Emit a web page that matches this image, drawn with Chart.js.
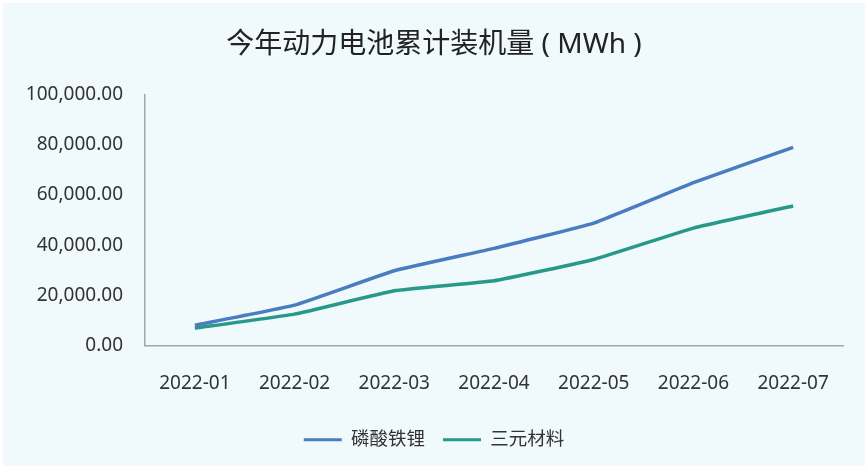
<!DOCTYPE html>
<html>
<head>
<meta charset="utf-8">
<script src="https://cdn.jsdelivr.net/npm/chart.js@4/dist/chart.umd.min.js"></script>
<style>
  html, body { margin: 0; padding: 0; background: #fff; }
  #wrap { width: 868px; height: 470px; position: relative; }
</style>
</head>
<body>
<div id="wrap"><canvas id="myChart" width="868" height="470"></canvas></div>
<script>
const months = ['2022-01', '2022-02', '2022-03', '2022-04', '2022-05', '2022-06', '2022-07'];
const lfp = [8100, 16100, 29800, 38700, 48800, 64900, 79000];
const ncm = [6900, 12500, 21800, 25800, 34300, 46800, 55600];
const yTicks = [0, 20000, 40000, 60000, 80000, 100000];

const fontFamily = '"Noto Sans", "Noto Sans CJK SC", sans-serif';
const textColor = '#333';

// paints the pale panel behind the chart, leaving a thin white edge
const panelBg = {
  id: 'panelBg',
  beforeDraw: (chart) => {
    let ctx = chart.ctx;
    ctx.save();
    ctx.fillStyle = '#f0f9fb';
    ctx.fillRect(3, 3, chart.width - 6, chart.height - 7);
    ctx.restore();
  }
}

const fmt = (v) => v.toLocaleString('en-US', { minimumFractionDigits: 2, maximumFractionDigits: 2 });

let ctx = document.getElementById('myChart').getContext('2d');
let chart = new Chart(ctx, {
  type: 'line',
  data: {
    labels: months,
    datasets: [
      {
        label: '磷酸铁锂',
        data: lfp,
        borderColor: '#4a7cc0',
        backgroundColor: '#4a7cc0',
        borderWidth: 3.5,
        pointRadius: 0,
        tension: 0.1,
        fill: false,
      },
      {
        label: '三元材料',
        data: ncm,
        borderColor: '#26998b',
        backgroundColor: '#26998b',
        borderWidth: 3.5,
        pointRadius: 0,
        tension: 0.1,
        fill: false,
      },
    ]
  },
  options: {
    responsive: false,
    animation: false,
    layout: { padding: { left: 0, right: 0, top: 0, bottom: 11 } },
    plugins: {
      title: {
        display: true,
        text: '今年动力电池累计装机量 ( MWh )',
        color: '#222',
        font: { family: fontFamily, size: 28, weight: 'normal' },
        padding: { top: 28, bottom: 33 },
      },
      legend: {
        position: 'bottom',
        labels: {
          color: textColor,
          font: { family: fontFamily, size: 18.5 },
          boxWidth: 38,
          boxHeight: 3,
          padding: 18,
          // thin line swatch, no stroke round it
          generateLabels: (chart) => {
            return Chart.defaults.plugins.legend.labels.generateLabels(chart).map(item => {
              item.lineWidth = 0;
              return item;
            })
          },
        },
      },
      tooltip: { enabled: false },
    },
    scales: {
      x: {
        offset: true,
        grid: { display: false, drawTicks: false },
        border: { display: true, color: '#a6a6a6', width: 1.5 },
        ticks: {
          color: textColor,
          font: { family: fontFamily, size: 19 },
          padding: 27,
          maxRotation: 0,
        },
        afterFit: (scale) => { scale.height = 67; },
      },
      y: {
        min: 0,
        max: 100000,
        grid: { display: false, drawTicks: false },
        border: { display: true, color: '#a6a6a6', width: 1.5 },
        afterBuildTicks: (scale) => { scale.ticks = yTicks.map(v => ({ value: v })); },
        ticks: {
          color: textColor,
          font: { family: fontFamily, size: 19 },
          padding: 22,
          callback: (v) => fmt(v),
        },
        afterFit: (scale) => { scale.width = 145; },
      },
      // empty right gutter so title and legend stay centred on the whole panel
      gutter: {
        position: 'right',
        grid: { display: false, drawTicks: false },
        border: { display: false },
        ticks: { display: false },
        afterFit: (scale) => { scale.width = 25; },
      },
    },
  },
  plugins: [panelBg],
});
</script>
</body>
</html>
